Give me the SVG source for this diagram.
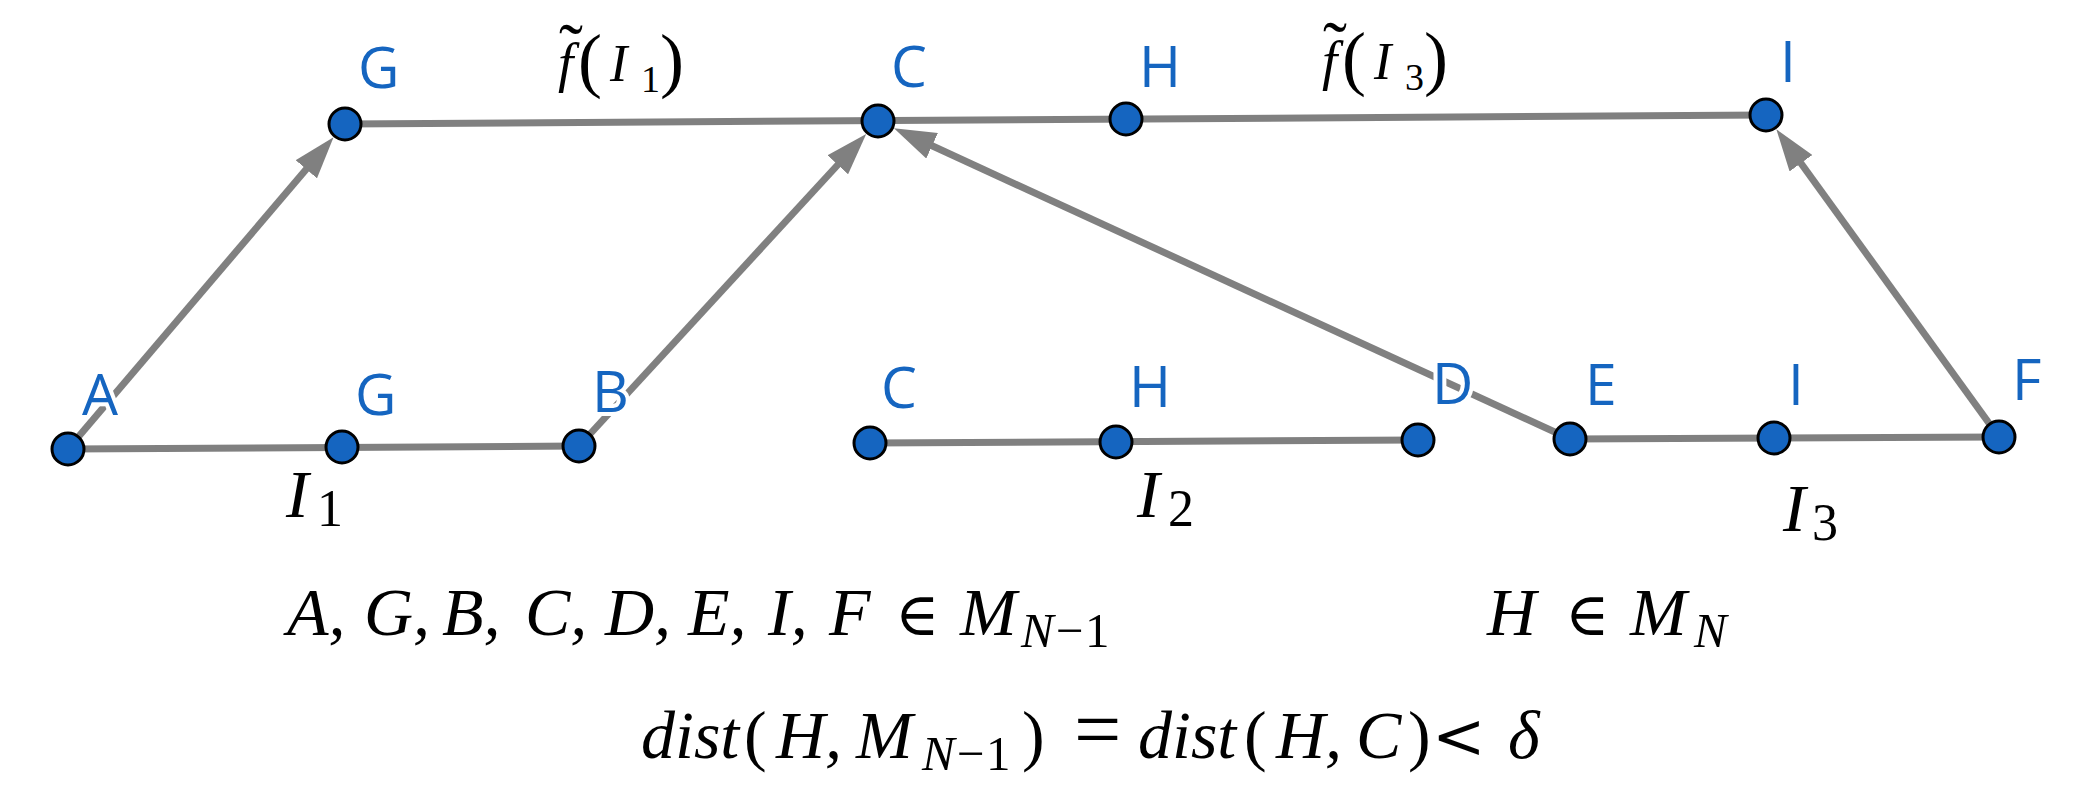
<svg xmlns="http://www.w3.org/2000/svg" width="2090" height="788" viewBox="0 0 2090 788">
<style>
.ln{stroke:#808080;stroke-width:7;fill:none}
.arw{marker-end:url(#arr)}
.dot{fill:#1565C0;stroke:#000;stroke-width:3}
.lbl{font-family:"Open Sans","DejaVu Sans",sans-serif;font-size:57px;fill:#1565C0;stroke:#fff;stroke-width:8;stroke-linejoin:round;paint-order:stroke}
.m{font-family:"Liberation Serif","DejaVu Serif",serif;fill:#000}
.it{font-style:italic}
.sym{font-family:"DejaVu Serif",serif;font-style:normal}
</style>
<defs>
<marker id="arr" markerUnits="userSpaceOnUse" viewBox="0 0 42 28" markerWidth="42" markerHeight="28" refX="12" refY="14" orient="auto">
<path d="M0,0 L42,14 L0,28 Z" fill="#808080"/>
</marker>
</defs>
<rect width="2090" height="788" fill="#fff"/>
<g id="connectors">
<line class="ln" x1="345" y1="124" x2="1766" y2="115"/>
<line class="ln" x1="68" y1="449" x2="579" y2="446"/>
<line class="ln" x1="870" y1="443" x2="1418" y2="440"/>
<line class="ln" x1="1570" y1="439" x2="1999" y2="437"/>
<line class="ln arw" x1="68" y1="449" x2="314.1" y2="160.1"/>
<line class="ln arw" x1="579" y1="446" x2="845.9" y2="156"/>
<line class="ln arw" x1="1570" y1="439" x2="921.2" y2="140.8"/>
<line class="ln arw" x1="1999" y1="437" x2="1793.9" y2="153.5"/>
</g>
<g id="node-G-top"><circle class="dot" cx="345" cy="124" r="16"/><text class="lbl" x="358" y="88">G</text></g>
<g id="node-C-top"><circle class="dot" cx="878" cy="121" r="16"/><text class="lbl" x="891" y="87">C</text></g>
<g id="node-H-top"><circle class="dot" cx="1126" cy="119" r="16"/><text class="lbl" x="1139" y="87">H</text></g>
<g id="node-I-top"><circle class="dot" cx="1766" cy="115" r="16"/><text class="lbl" x="1780" y="82">I</text></g>
<g id="node-A"><circle class="dot" cx="68" cy="449" r="16"/><text class="lbl" x="82" y="415">A</text></g>
<g id="node-G"><circle class="dot" cx="342" cy="447" r="16"/><text class="lbl" x="355" y="415">G</text></g>
<g id="node-B"><circle class="dot" cx="579" cy="446" r="16"/><text class="lbl" x="592" y="412">B</text></g>
<g id="node-C"><circle class="dot" cx="870" cy="443" r="16"/><text class="lbl" x="881" y="408">C</text></g>
<g id="node-H"><circle class="dot" cx="1116" cy="442" r="16"/><text class="lbl" x="1129" y="407">H</text></g>
<g id="node-D"><circle class="dot" cx="1418" cy="440" r="16"/><text class="lbl" x="1432" y="404">D</text></g>
<g id="node-E"><circle class="dot" cx="1570" cy="439" r="16"/><text class="lbl" x="1585" y="405">E</text></g>
<g id="node-I"><circle class="dot" cx="1774" cy="438" r="16"/><text class="lbl" x="1788" y="405">I</text></g>
<g id="node-F"><circle class="dot" cx="1999" cy="437" r="16"/><text class="lbl" x="2012" y="400">F</text></g>
<g id="math-labels">
<text class="m"><tspan x="571" y="73" font-size="72" text-anchor="middle">˜</tspan><tspan class="it" x="558" y="81" font-size="55">f</tspan><tspan x="578" y="84" font-size="72">(</tspan><tspan class="it" x="610" y="81" font-size="52">I</tspan><tspan x="641" y="92" font-size="38">1</tspan><tspan x="660" y="84" font-size="72">)</tspan></text>
<text class="m"><tspan x="1335" y="71" font-size="72" text-anchor="middle">˜</tspan><tspan class="it" x="1322" y="79" font-size="55">f</tspan><tspan x="1342" y="82" font-size="72">(</tspan><tspan class="it" x="1374" y="79" font-size="52">I</tspan><tspan x="1405" y="90" font-size="38">3</tspan><tspan x="1424" y="82" font-size="72">)</tspan></text>
<text class="m" font-size="68" y="517"><tspan class="it" x="286">I</tspan><tspan x="317" dy="9" font-size="52">1</tspan></text>
<text class="m" font-size="68" y="517"><tspan class="it" x="1137">I</tspan><tspan x="1168" dy="9" font-size="52">2</tspan></text>
<text class="m" font-size="68" y="531"><tspan class="it" x="1783">I</tspan><tspan x="1812" dy="9" font-size="52">3</tspan></text>
<text class="m" font-size="68" y="635"><tspan class="it" x="287">A,</tspan><tspan class="it" x="364">G,</tspan><tspan class="it" x="442">B,</tspan><tspan class="it" x="525">C,</tspan><tspan class="it" x="605">D,</tspan><tspan class="it" x="688">E,</tspan><tspan class="it" x="768">I,</tspan><tspan class="it" x="829">F</tspan><tspan class="sym" x="895" font-size="60">∈</tspan><tspan class="it" x="960">M</tspan><tspan class="it" x="1021" dy="12" font-size="49">N</tspan><tspan x="1056" font-size="49">−</tspan><tspan x="1085" font-size="49">1</tspan></text>
<text class="m" font-size="68" y="635"><tspan class="it" x="1487">H</tspan><tspan class="sym" x="1565" font-size="60">∈</tspan><tspan class="it" x="1630">M</tspan><tspan class="it" x="1694" dy="12" font-size="49">N</tspan></text>
<text class="m" font-size="68" y="758"><tspan class="it" x="641">dist</tspan><tspan x="744">(</tspan><tspan class="it" x="776">H,</tspan><tspan class="it" x="856">M</tspan><tspan class="it" x="922" dy="12" font-size="49">N</tspan><tspan x="957" font-size="49">−</tspan><tspan x="986" font-size="49">1</tspan><tspan x="1022" dy="-12">)</tspan><tspan x="1074" font-size="84">=</tspan><tspan class="it" x="1138">dist</tspan><tspan x="1244">(</tspan><tspan class="it" x="1276">H,</tspan><tspan class="it" x="1356">C</tspan><tspan x="1408">)</tspan><tspan class="sym" x="1432" font-size="64">&lt;</tspan><tspan class="it" x="1508">δ</tspan></text>
</g>
</svg>
